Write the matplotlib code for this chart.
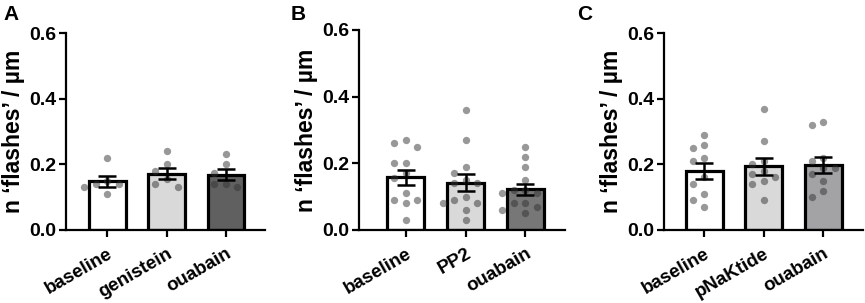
import numpy as np
import matplotlib
matplotlib.use("Agg")
import matplotlib.pyplot as plt

plt.rcParams['font.family'] = ['Liberation Sans', 'DejaVu Sans']
plt.rcParams['font.weight'] = 'bold'

# panel A
a_labels = ["baseline", "genistein", "ouabain"]
a_means = [0.148, 0.172, 0.169]
a_sems = [0.016, 0.018, 0.017]
a_points = [
    [0.22, 0.15, 0.14, 0.14, 0.13, 0.11],
    [0.24, 0.20, 0.18, 0.155, 0.14, 0.13],
    [0.23, 0.20, 0.175, 0.14, 0.14, 0.13],
]

# panel B
b_labels = ["baseline", "PP2", "ouabain"]
b_means = [0.158, 0.142, 0.122]
b_sems = [0.022, 0.025, 0.017]
b_points = [
    [0.27, 0.26, 0.25, 0.20, 0.20, 0.17, 0.155, 0.11, 0.09, 0.09, 0.08, 0.03],
    [0.36, 0.27, 0.19, 0.17, 0.15, 0.14, 0.14, 0.10, 0.09, 0.08, 0.08, 0.06, 0.03],
    [0.25, 0.22, 0.19, 0.15, 0.12, 0.12, 0.11, 0.11, 0.08, 0.08, 0.07, 0.06, 0.05],
]

# panel C
c_labels = ["baseline", "pNaKtide", "ouabain"]
c_means = [0.179, 0.194, 0.199]
c_sems = [0.024, 0.025, 0.024]
c_points = [
    [0.29, 0.26, 0.25, 0.22, 0.21, 0.16, 0.14, 0.11, 0.09, 0.07],
    [0.37, 0.27, 0.21, 0.20, 0.18, 0.17, 0.16, 0.15, 0.14, 0.09],
    [0.33, 0.32, 0.22, 0.21, 0.19, 0.19, 0.17, 0.15, 0.12, 0.10],
]

W, H = 865, 303


def swarm_x(ax, x0, vals, step_px=11.5, min_px=8.5):
    # simple beeswarm in pixel space
    to_px = ax.transData
    placed = []
    xs = []
    for v in vals:
        for k in [0, -1, 1, -2, 2, -3, 3]:
            px, py = to_px.transform((x0, v))
            px += k * step_px
            if all((px - qx) ** 2 + (py - qy) ** 2 >= min_px ** 2 for qx, qy in placed):
                break
        placed.append((px, py))
        xs.append(ax.transData.inverted().transform((px, py))[0])
    return xs


def panel(fig, rect, xlim, letter, letter_x, labels, means, sems, points, colors):
    ax = fig.add_axes(rect)
    x = np.arange(len(labels))
    ax.set_xlim(*xlim)
    ax.set_ylim(0, 0.6)
    ax.bar(x, means, width=0.62, color=colors, edgecolor='black', linewidth=2.3, zorder=1)
    for i, vals in enumerate(points):
        xs = swarm_x(ax, x[i], vals)
        ax.scatter(xs, vals, s=28, color='#333333', alpha=0.5, linewidths=0, zorder=3)
    ax.errorbar(x, means, yerr=sems, fmt='none', ecolor='black', elinewidth=1.8,
                capsize=6.5, capthick=1.8, zorder=4)
    for s in ['top', 'right']:
        ax.spines[s].set_visible(False)
    for s in ['left', 'bottom']:
        ax.spines[s].set_linewidth(1.6)
    ax.set_yticks([0.0, 0.2, 0.4, 0.6])
    ax.set_yticklabels(['0.0', '0.2', '0.4', '0.6'], fontsize=14, fontweight='bold')
    ax.set_xticks(x)
    ax.set_xticklabels(labels, rotation=30, ha='right', rotation_mode='anchor',
                       fontsize=13.5, fontweight='bold')
    ax.tick_params(axis='both', width=1.6, length=5, pad=2)
    ax.tick_params(axis='x', pad=6)
    ax.set_ylabel('n \u2018flashes\u2019 / \u00b5m', fontsize=16.5, fontweight='bold', labelpad=3)
    fig.text(letter_x / W, 1 - 15 / H, letter, fontsize=15, fontweight='bold', va='center')
    return ax


fig = plt.figure(figsize=(W / 100, H / 100), dpi=100)

panel(fig, [66 / W, 73 / H, 199 / W, 197 / H], (-0.70, 2.66), 'A', 3,
      a_labels, a_means, a_sems, a_points, ['white', '#d9d9d9', '#606060'])
panel(fig, [359 / W, 73 / H, 206 / W, 200 / H], (-0.78, 2.66), 'B', 291,
      b_labels, b_means, b_sems, b_points, ['white', '#d9d9d9', '#777777'])
panel(fig, [664 / W, 73 / H, 199 / W, 197 / H], (-0.68, 2.67), 'C', 577,
      c_labels, c_means, c_sems, c_points, ['white', '#d9d9d9', '#a3a3a6'])

fig.savefig('out.png', dpi=100)
